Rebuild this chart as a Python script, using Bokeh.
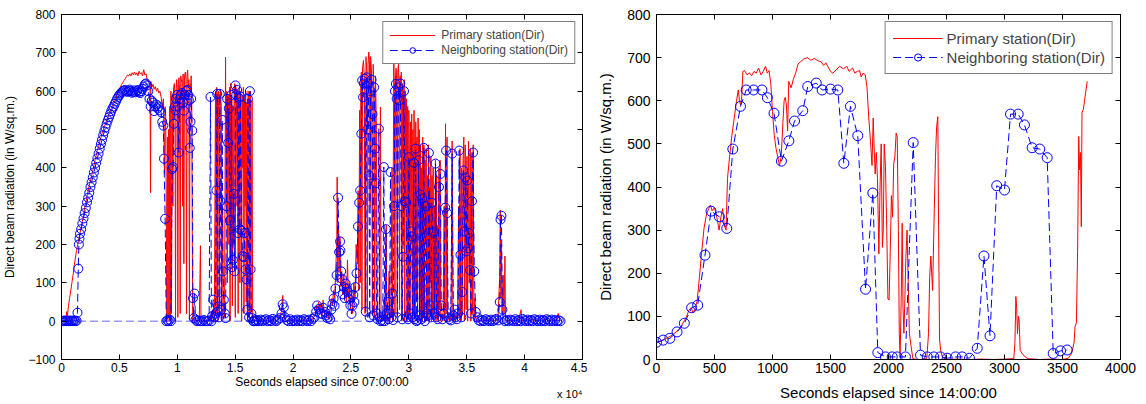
from bokeh.plotting import figure
from bokeh.models import (FixedTicker, LinearAxis, Range1d, Legend, LegendItem,
                          Title, CustomJSTickFormatter, ColumnDataSource)
from bokeh.layouts import row
from bokeh.embed import file_html
from bokeh.resources import INLINE

FONT = "Liberation Sans"
RED = "#ff0000"
BLUE = "#0000ff"

# ---------------- data: left panel (seconds since 07:00:00, W/sq.m.) ----------------
left_primary = [
    (0, 0), (150, 2), (300, 0), (400, 5), (450, 25), (500, 10), (600, 40), (700, 60), (800, 80), (900, 100),
    (1000, 120), (1100, 145), (1200, 165), (1300, 185), (1400, 200), (1500, 215), (1600, 230), (1700, 245),
    (1800, 260), (1900, 275), (2000, 295), (2100, 310), (2200, 325), (2300, 340), (2400, 355), (2500, 365),
    (2600, 380), (2700, 392), (2800, 405), (2900, 420), (3000, 432), (3100, 445), (3200, 455), (3300, 468),
    (3400, 478), (3500, 490), (3600, 498), (3700, 508), (3800, 515), (3900, 525), (4000, 532), (4100, 540),
    (4200, 548), (4300, 555), (4400, 562), (4500, 567), (4600, 575), (4700, 582), (4800, 590), (4900, 597),
    (5000, 605), (5100, 612), (5200, 618), (5300, 623), (5400, 628), (5500, 632), (5600, 638), (5700, 642),
    (5800, 640), (5900, 645), (6000, 640), (6100, 648), (6200, 643), (6300, 650), (6400, 642), (6500, 648),
    (6600, 640), (6700, 652), (6800, 645), (6900, 648), (7000, 640), (7100, 656), (7200, 642), (7300, 645),
    (7400, 630), (7500, 628), (7600, 618), (7650, 620), (7690, 335), (7720, 625), (7800, 610), (7900, 618),
    (8000, 605), (8100, 612), (8200, 600), (8300, 608), (8400, 595), (8500, 600), (8600, 585), (8700, 560),
    (8800, 580), (8900, 384), (8950, 560), (9000, 540), (9050, 300), (9100, 0), (9150, 480), (9200, 10),
    (9250, 500), (9300, 0), (9350, 560), (9400, 5), (9450, 600), (9500, 20), (9560, 590), (9620, 300),
    (9680, 610), (9750, 620), (9800, 580), (9850, 0), (9900, 600), (9950, 630), (10000, 610), (10050, 10),
    (10100, 620), (10150, 635), (10200, 600), (10250, 20), (10300, 640), (10350, 625), (10400, 630),
    (10450, 300), (10500, 645), (10570, 150), (10620, 640), (10700, 650), (10750, 630), (10800, 20),
    (10850, 645), (10900, 655), (10950, 610), (11000, 630), (11050, 5), (11100, 620), (11150, 600),
    (11200, 640), (11250, 580), (11290, 262), (11330, 0), (11400, 5), (11500, 0), (11600, 3), (11700, 0),
    (11800, 2), (11900, 0), (12000, 197), (12050, 0), (12200, 3), (12400, 0), (12600, 2), (12800, 0),
    (12900, 15), (13000, 5), (13100, 30), (13200, 0), (13300, 600), (13350, 20), (13400, 610), (13450, 590),
    (13500, 0), (13550, 600), (13600, 595), (13650, 10), (13720, 605), (13800, 560), (13850, 0), (13900, 300),
    (13980, 30), (14080, 10), (14170, 689), (14220, 300), (14270, 600), (14320, 100), (14370, 585),
    (14420, 590), (14460, 200), (14510, 610), (14560, 0), (14610, 620), (14660, 150), (14710, 580),
    (14760, 40), (14810, 560), (14860, 200), (14910, 600), (14960, 620), (15010, 10), (15060, 610),
    (15110, 590), (15160, 300), (15210, 600), (15260, 20), (15310, 595), (15360, 610), (15410, 100),
    (15460, 600), (15510, 585), (15560, 0), (15610, 590), (15660, 400), (15710, 610), (15760, 20),
    (15810, 580), (15860, 300), (15910, 600), (15960, 50), (16010, 570), (16060, 0), (16110, 600),
    (16160, 585), (16210, 10), (16260, 590), (16310, 600), (16360, 20), (16460, 576), (16510, 0),
    (16600, 5), (16800, 0), (17000, 4), (17200, 0), (17400, 6), (17600, 0), (17800, 3), (18000, 8),
    (18200, 0), (18400, 5), (18600, 0), (18800, 10), (19000, 25), (19110, 67), (19150, 20), (19300, 5),
    (19500, 0), (19700, 4), (19900, 0), (20100, 6), (20300, 0), (20500, 3), (20700, 0), (20900, 5),
    (21100, 0), (21300, 4), (21500, 0), (21700, 8), (21900, 15), (22000, 40), (22100, 20), (22200, 50),
    (22300, 30), (22400, 45), (22500, 15), (22600, 55), (22700, 20), (22800, 30), (22900, 10), (23000, 25),
    (23100, 5), (23200, 35), (23300, 59), (23400, 40), (23500, 80), (23600, 60), (23700, 150), (23780, 200),
    (23810, 376), (23860, 100), (23920, 250), (23980, 130), (24050, 220), (24120, 90), (24200, 130),
    (24280, 70), (24390, 120), (24450, 60), (24530, 100), (24620, 50), (24700, 160), (24780, 60),
    (24860, 100), (24950, 30), (25050, 80), (25150, 20), (25250, 100), (25350, 60), (25450, 200),
    (25550, 150), (25620, 340), (25680, 80), (25750, 550), (25800, 100), (25850, 620), (25900, 650),
    (25950, 30), (26000, 660), (26080, 680), (26150, 640), (26220, 20), (26300, 690), (26370, 650),
    (26420, 10), (26480, 670), (26540, 702), (26600, 680), (26650, 300), (26700, 690), (26780, 650),
    (26850, 20), (26920, 670), (27000, 600), (27050, 10), (27120, 640), (27200, 500), (27260, 0),
    (27350, 5), (27450, 0), (27550, 558), (27600, 0), (27700, 10), (27800, 0), (27900, 60), (27950, 0),
    (28050, 250), (28100, 0), (28200, 30), (28300, 130), (28350, 0), (28450, 20), (28550, 400), (28600, 0),
    (28700, 676), (28750, 600), (28800, 20), (28850, 640), (28900, 660), (28950, 630), (29000, 10),
    (29050, 650), (29100, 670), (29150, 620), (29200, 30), (29250, 640), (29300, 600), (29350, 650),
    (29400, 0), (29450, 620), (29500, 200), (29550, 600), (29600, 630), (29650, 0), (29700, 600),
    (29750, 300), (29800, 580), (29850, 0), (29900, 560), (29950, 10), (30000, 550), (30050, 430),
    (30100, 0), (30150, 520), (30200, 250), (30250, 540), (30300, 0), (30350, 500), (30400, 20),
    (30450, 550), (30500, 380), (30550, 0), (30600, 520), (30650, 50), (30700, 480), (30750, 0),
    (30800, 530), (30850, 300), (30900, 500), (30950, 0), (31000, 460), (31050, 20), (31100, 400),
    (31150, 0), (31200, 480), (31250, 30), (31300, 460), (31350, 0), (31400, 420), (31450, 200),
    (31500, 450), (31550, 0), (31600, 380), (31650, 20), (31700, 460), (31750, 0), (31800, 350),
    (31850, 100), (31900, 430), (31950, 0), (32000, 380), (32050, 20), (32100, 400), (32150, 0),
    (32200, 300), (32250, 50), (32300, 420), (32350, 0), (32400, 380), (32450, 10), (32500, 250),
    (32550, 0), (32600, 400), (32650, 30), (32700, 420), (32750, 0), (32850, 20), (32950, 0), (33050, 300),
    (33100, 0), (33170, 515), (33220, 20), (33300, 480), (33350, 0), (33450, 10), (33550, 0), (33650, 30),
    (33740, 470), (33800, 0), (33900, 20), (34000, 0), (34100, 15), (34200, 0), (34300, 300), (34350, 10),
    (34420, 450), (34480, 0), (34550, 400), (34600, 20), (34680, 420), (34750, 480), (34800, 0),
    (34870, 460), (34950, 30), (35020, 430), (35080, 0), (35150, 470), (35220, 100), (35300, 450),
    (35360, 0), (35450, 440), (35500, 20), (35560, 460), (35620, 0), (35700, 60), (35800, 5), (35900, 0),
    (36100, 5), (36300, 0), (36500, 3), (36700, 0), (36900, 6), (37100, 0), (37300, 4), (37500, 0),
    (37700, 8), (37850, 120), (37900, 290), (37950, 60), (38000, 200), (38050, 20), (38150, 120),
    (38220, 20), (38300, 170), (38350, 5), (38500, 0), (38700, 4), (38900, 0), (39100, 3), (39300, 0),
    (39500, 5), (39700, 30), (39750, 0), (40000, 4), (40300, 0), (40600, 5), (40900, 0), (41200, 3),
    (41500, 0), (41800, 6), (42100, 0), (42400, 4), (42700, 0), (42900, 20), (43000, 5), (43200, 0),
]

left_neighbor = [
    (0, 0), (100, 1), (200, 0), (300, 2), (400, 0), (500, 1), (600, 0), (700, 2), (800, 0), (900, 1),
    (1000, 0), (1100, 2), (1200, 0), (1300, 1), (1380, 22), (1450, 137), (1500, 200), (1550, 215),
    (1600, 228), (1700, 240), (1800, 255), (1900, 268), (2000, 282), (2100, 295), (2200, 310), (2300, 322),
    (2400, 335), (2500, 350), (2600, 362), (2700, 375), (2800, 388), (2900, 400), (3000, 413), (3100, 425),
    (3200, 437), (3300, 450), (3400, 462), (3500, 473), (3600, 485), (3700, 495), (3800, 505), (3900, 515),
    (4000, 524), (4100, 532), (4200, 540), (4300, 548), (4400, 555), (4500, 560), (4600, 567), (4700, 573),
    (4800, 580), (4900, 585), (5000, 590), (5100, 594), (5200, 597), (5300, 600), (5400, 602), (5500, 603),
    (5600, 600), (5700, 598), (5800, 601), (5900, 604), (6000, 600), (6100, 596), (6200, 598), (6300, 602),
    (6400, 597), (6500, 600), (6600, 603), (6700, 598), (6800, 595), (6900, 600), (7000, 606), (7100, 612),
    (7200, 618), (7300, 620), (7400, 615), (7500, 600), (7600, 580), (7700, 560), (7800, 575), (7900, 570),
    (8000, 548), (8100, 560), (8200, 565), (8300, 555), (8400, 560), (8500, 550), (8600, 545), (8700, 520),
    (8800, 510), (8850, 424), (8950, 267), (9050, 0), (9150, 2), (9250, 0), (9350, 4), (9450, 0),
    (9560, 397), (9640, 402), (9700, 515), (9800, 560), (9850, 550), (9900, 580), (9990, 590), (10050, 560),
    (10130, 440), (10200, 580), (10300, 590), (10420, 595), (10500, 570), (10570, 549), (10650, 590),
    (10750, 600), (10850, 603), (10950, 590), (11000, 576), (11080, 452), (11140, 520), (11200, 580),
    (11290, 497), (11350, 60), (11430, 8), (11490, 72), (11580, 4), (11700, 0), (11850, 2), (12000, 0),
    (12150, 0), (12300, 3), (12450, 0), (12600, 0), (12750, 2), (12870, 585), (12950, 0), (13010, 13),
    (13100, 56), (13200, 10), (13300, 20), (13380, 341), (13450, 593), (13500, 25), (13600, 10),
    (13670, 593), (13730, 313), (13800, 30), (13880, 525), (13950, 130), (14020, 56), (14100, 20),
    (14170, 8), (14250, 300), (14310, 580), (14400, 465), (14450, 555), (14540, 263), (14600, 150),
    (14680, 590), (14740, 141), (14800, 160), (14880, 332), (14950, 130), (15030, 615), (15100, 590),
    (15170, 603), (15250, 230), (15320, 582), (15400, 240), (15460, 586), (15550, 236), (15650, 170),
    (15750, 167), (15820, 230), (15900, 135), (15990, 109), (16050, 30), (16100, 580), (16200, 10),
    (16270, 600), (16330, 135), (16400, 20), (16470, 8), (16560, 0), (16620, 0), (16700, 2), (16800, 0),
    (16900, 3), (17050, 0), (17200, 4), (17350, 0), (17500, 2), (17650, 5), (17800, 0), (17950, 3),
    (18100, 0), (18250, 6), (18400, 2), (18550, 0), (18700, 4), (18850, 8), (19000, 20), (19100, 44),
    (19200, 36), (19300, 10), (19450, 3), (19600, 0), (19750, 5), (19900, 0), (20050, 2), (20200, 0),
    (20350, 4), (20500, 0), (20650, 3), (20800, 0), (20950, 5), (21100, 2), (21250, 0), (21400, 4),
    (21550, 0), (21700, 6), (21850, 10), (22000, 25), (22080, 41), (22240, 32), (22350, 20), (22510, 19),
    (22600, 35), (22740, 24), (22850, 15), (22950, 8), (23070, 11), (23200, 5), (23300, 30), (23400, 45),
    (23500, 59), (23580, 40), (23660, 85), (23760, 120), (23890, 322), (23980, 180), (24060, 208),
    (24090, 184), (24150, 130), (24220, 111), (24300, 70), (24390, 89), (24470, 60), (24550, 98),
    (24630, 85), (24720, 76), (24820, 59), (24950, 41), (25050, 19), (25130, 40), (25210, 68), (25300, 50),
    (25380, 89), (25480, 125), (25610, 247), (25710, 309), (25800, 341), (25900, 489), (25970, 628),
    (26050, 584), (26120, 620), (26200, 632), (26280, 25), (26350, 636), (26420, 500), (26500, 620),
    (26560, 380), (26620, 10), (26700, 600), (26780, 630), (26860, 540), (26920, 15), (27000, 610),
    (27080, 450), (27150, 360), (27220, 20), (27300, 5), (27410, 502), (27480, 10), (27560, 0), (27650, 3),
    (27750, 0), (27840, 402), (27920, 0), (28020, 240), (28100, 20), (28180, 50), (28260, 5), (28340, 20),
    (28420, 389), (28500, 10), (28580, 72), (28650, 3), (28720, 300), (28800, 600), (28880, 619),
    (28950, 580), (29020, 10), (29100, 610), (29180, 576), (29260, 620), (29340, 300), (29420, 5),
    (29500, 168), (29580, 600), (29670, 313), (29770, 309), (29850, 10), (29930, 5), (30000, 428),
    (30080, 20), (30170, 234), (30250, 221), (30330, 10), (30420, 413), (30500, 5), (30580, 450),
    (30660, 0), (30750, 3), (30840, 420), (30920, 15), (31000, 330), (31080, 5), (31150, 320), (31240, 10),
    (31290, 452), (31380, 0), (31470, 300), (31560, 20), (31650, 15), (31730, 439), (31820, 41),
    (31900, 10), (31980, 309), (32060, 230), (32150, 234), (32230, 20), (32300, 411), (32400, 10),
    (32500, 5), (32600, 350), (32730, 384), (32800, 41), (32900, 5), (33000, 20), (33140, 296),
    (33220, 445), (33300, 282), (33400, 10), (33500, 5), (33630, 2), (33740, 437), (33850, 15), (33950, 30),
    (34050, 10), (34150, 5), (34250, 20), (34350, 445), (34460, 173), (34540, 10), (34620, 76), (34700, 393),
    (34790, 234), (34870, 375), (34950, 182), (35040, 367), (35120, 190), (35200, 230), (35280, 133),
    (35370, 20), (35450, 313), (35550, 440), (35650, 130), (35780, 24), (35940, 10), (36050, 2), (36200, 0),
    (36350, 3), (36500, 0), (36650, 5), (36800, 2), (36950, 0), (37100, 4), (37250, 0), (37400, 3),
    (37550, 6), (37700, 2), (37850, 50), (37920, 265), (38000, 275), (38080, 30), (38150, 5), (38300, 0),
    (38450, 3), (38600, 0), (38750, 4), (38900, 2), (39050, 0), (39200, 5), (39350, 0), (39500, 3),
    (39650, 0), (39800, 6), (39950, 2), (40100, 0), (40250, 4), (40400, 0), (40550, 3), (40700, 0),
    (40850, 5), (41000, 2), (41150, 0), (41300, 4), (41450, 0), (41600, 3), (41750, 0), (41900, 5),
    (42050, 2), (42200, 0), (42350, 4), (42500, 0), (42650, 3), (42800, 0), (42950, 2), (43100, 0),
]

# long dashed neighbour trace lying along zero
left_neighbor_zero_run = [(1420, 0), (27200, 0)]

left_xticks = [0, 5000, 10000, 15000, 20000, 25000, 30000, 35000, 40000, 45000]
left_xtick_labels = ["0", "0.5", "1", "1.5", "2", "2.5", "3", "3.5", "4", "4.5"]
left_yticks = [-100, 0, 100, 200, 300, 400, 500, 600, 700, 800]
left_exponent = "x 10\u2074"

# ---------------- data: right panel (seconds since 14:00:00) ----------------
right_primary = [
    (0, 38), (30, 42), (60, 46), (90, 50), (120, 54), (150, 60), (180, 66), (210, 76), (240, 90), (260, 100),
    (280, 115), (300, 120), (315, 108), (330, 116), (350, 135), (370, 190), (390, 250), (410, 305), (430, 335),
    (450, 350), (465, 358), (480, 345), (500, 352), (520, 330), (540, 300), (555, 330), (570, 350), (585, 310),
    (600, 300), (612, 420), (630, 470), (650, 520), (670, 560), (690, 600), (705, 625), (715, 600), (725, 590),
    (735, 610), (745, 668), (760, 670), (780, 660), (800, 665), (820, 658), (840, 668), (860, 664), (880, 676),
    (900, 660), (920, 668), (940, 680), (955, 664), (970, 670), (985, 640), (1000, 575), (1015, 520),
    (1030, 490), (1045, 470), (1060, 450), (1075, 470), (1090, 550), (1100, 600), (1110, 608), (1120, 590),
    (1130, 530), (1140, 645), (1160, 630), (1180, 650), (1200, 665), (1220, 685), (1240, 690), (1270, 697),
    (1300, 700), (1330, 694), (1360, 698), (1390, 693), (1420, 690), (1440, 682), (1460, 688), (1480, 678),
    (1500, 668), (1520, 664), (1550, 672), (1580, 680), (1610, 674), (1640, 680), (1660, 668), (1690, 676),
    (1710, 664), (1730, 668), (1750, 670), (1765, 655), (1780, 664), (1800, 660), (1815, 630), (1830, 560),
    (1845, 505), (1858, 450), (1868, 560), (1875, 500), (1885, 430), (1895, 480), (1905, 420), (1917, 245),
    (1927, 400), (1937, 500), (1947, 260), (1955, 300), (1963, 500), (1974, 447), (1985, 300), (1995, 140),
    (2005, 138), (2015, 250), (2025, 380), (2035, 330), (2045, 455), (2055, 470), (2066, 525), (2075, 517),
    (2085, 300), (2093, 61), (2100, 5), (2110, 150), (2118, 316), (2125, 120), (2133, 61), (2142, 150),
    (2150, 238), (2160, 300), (2170, 180), (2180, 61), (2195, 30), (2210, 2), (2240, 0), (2280, 0), (2330, 2),
    (2345, 60), (2355, 190), (2365, 240), (2380, 160), (2395, 350), (2405, 470), (2415, 540), (2425, 563),
    (2432, 300), (2440, 47), (2450, 20), (2465, 5), (2500, 0), (2600, 1), (2700, 0), (2800, 1), (2900, 0),
    (3000, 1), (3080, 2), (3090, 40), (3098, 146), (3105, 120), (3112, 60), (3120, 100), (3126, 92),
    (3135, 21), (3150, 15), (3170, 8), (3200, 2), (3300, 0), (3400, 1), (3500, 0), (3550, 3), (3580, 15),
    (3600, 40), (3608, 76), (3620, 85), (3630, 250), (3640, 517), (3647, 440), (3655, 480), (3662, 308),
    (3668, 572), (3680, 580), (3690, 600), (3700, 620), (3713, 645),
]

right_neighbor = [
    (0, 40), (57, 45), (115, 49), (177, 64), (240, 84), (303, 120), (355, 126), (418, 242), (470, 344),
    (542, 331), (606, 304), (658, 488), (724, 587), (773, 625), (837, 625), (909, 625), (956, 607),
    (1013, 571), (1077, 460), (1141, 507), (1190, 553), (1261, 577), (1304, 633), (1377, 641), (1428, 625),
    (1500, 627), (1563, 625), (1615, 455), (1672, 587), (1735, 519), (1802, 163), (1865, 386), (1908, 16),
    (1974, 6), (2032, 6), (2075, 6), (2146, 6), (2213, 503), (2276, 10), (2334, 6), (2391, 6), (2448, 6),
    (2506, 3), (2578, 6), (2635, 6), (2698, 3), (2765, 26), (2823, 240), (2875, 55), (2933, 403),
    (3000, 393), (3052, 569), (3118, 569), (3172, 544), (3238, 491), (3304, 488), (3368, 468), (3420, 14),
    (3483, 20), (3540, 22),
]

right_xticks = [0, 500, 1000, 1500, 2000, 2500, 3000, 3500, 4000]
right_yticks = [0, 100, 200, 300, 400, 500, 600, 700, 800]

legend_labels = ["Primary station(Dir)", "Neighboring station(Dir)"]
left_xlabel = "Seconds elapsed since 07:00:00"
right_xlabel = "Seconds elapsed since 14:00:00"
ylabel = "Direct beam radiation (in W/sq.m.)"


def cds(pairs):
    return ColumnDataSource(dict(x=[a for a, b in pairs], y=[b for a, b in pairs]))


def make_panel(xr, yr, xticks, yticks, fw, fh, bl, br, bt, bb, tick_px, lab_px, xlabel,
               x_std, x_lab_std, y_std, y_lab_std, xoverrides=None):
    p = figure(x_range=Range1d(*xr), y_range=Range1d(*yr), frame_width=fw, frame_height=fh,
               min_border_left=bl, min_border_right=br, min_border_top=bt, min_border_bottom=bb,
               output_backend="svg", toolbar_location=None, background_fill_color="white",
               border_fill_color="white")
    p.grid.visible = False
    p.outline_line_color = "black"
    p.outline_line_width = 1
    for ax, ticks in ((p.xaxis[0], xticks), (p.yaxis[0], yticks)):
        ax.ticker = FixedTicker(ticks=ticks)
        ax.major_tick_in = 5
        ax.major_tick_out = 0
        ax.minor_tick_in = 0
        ax.minor_tick_out = 0
        ax.axis_line_color = "black"
        ax.major_tick_line_color = "black"
        ax.major_label_text_font = FONT
        ax.major_label_text_font_size = f"{tick_px}px"
        ax.major_label_text_color = "black"
        ax.axis_label_text_font = FONT
        ax.axis_label_text_font_size = f"{lab_px}px"
        ax.axis_label_text_font_style = "normal"
        ax.axis_label_text_color = "black"
    p.xaxis[0].axis_label = xlabel
    p.yaxis[0].axis_label = ylabel
    p.xaxis[0].major_label_standoff = x_std
    p.xaxis[0].axis_label_standoff = x_lab_std
    p.yaxis[0].major_label_standoff = y_std
    p.yaxis[0].axis_label_standoff = y_lab_std
    if xoverrides:
        p.xaxis[0].major_label_overrides = xoverrides
    blank = CustomJSTickFormatter(code="return ''")
    for loc, ticks in (("above", xticks), ("right", yticks)):
        ax = LinearAxis(ticker=FixedTicker(ticks=ticks), formatter=blank,
                        major_tick_in=5, major_tick_out=0, minor_tick_in=0, minor_tick_out=0,
                        major_label_text_font_size="0px", major_label_standoff=0,
                        axis_line_color="black", major_tick_line_color="black")
        p.add_layout(ax, loc)
    return p


def add_series(p, prim, neigh, extra, gw, gh, lpx, pad, spacing, lh, standoff, margin, dash, msize):
    r_red = p.line("x", "y", source=cds(prim), line_color=RED, line_width=1)
    for seg in extra:
        p.line("x", "y", source=cds(seg), line_color=BLUE, line_width=1, line_dash=dash, line_alpha=0.6)
    src = cds(neigh)
    r_bl = p.line("x", "y", source=src, line_color=BLUE, line_width=1, line_dash=dash)
    r_bm = p.scatter("x", "y", source=src, marker="circle", size=msize, fill_color=None,
                     line_color=BLUE, line_width=1)
    leg = Legend(items=[LegendItem(label=legend_labels[0], renderers=[r_red]),
                        LegendItem(label=legend_labels[1], renderers=[r_bl, r_bm])],
                 location="top_right", margin=margin, padding=pad, spacing=spacing,
                 glyph_width=gw, glyph_height=gh, label_height=lh, label_standoff=standoff,
                 label_text_font=FONT, label_text_font_size=f"{lpx}px",
                 border_line_color="black", border_line_width=1,
                 background_fill_color="white", background_fill_alpha=1.0)
    p.add_layout(leg, "center")


# left panel: frame at page x 61..582, y 14..359
pl = make_panel((0, 45000), (-100, 800), left_xticks, left_yticks, 521, 345, 61, 5, 14, 44, 12, 12,
                left_xlabel, 3, 0, 6, 8, dict(zip(left_xticks, left_xtick_labels)))
add_series(pl, left_primary, left_neighbor, [left_neighbor_zero_run], 46, 14, 12, 6, 1, 14, 6, 7,
           "8 4", 9)
pl.add_layout(Title(text=left_exponent, align="right", vertical_align="top", text_font=FONT,
                    text_font_size="11px", text_font_style="normal", text_color="black",
                    standoff=-8, offset=0), "below")

# right panel: frame at page x 656..1120, y 14..359
pr = make_panel((0, 4000), (0, 800), right_xticks, right_yticks, 464, 345, 69, 25, 14, 44, 14, 15,
                right_xlabel, 3, 8, 6, 10)
add_series(pr, right_primary, right_neighbor, [], 50, 18, 15, 7, 1, 18, 4, 7, "8 4", 10)

layout = row(pl, pr)
open("out.html", "w").write(file_html(layout, INLINE))
